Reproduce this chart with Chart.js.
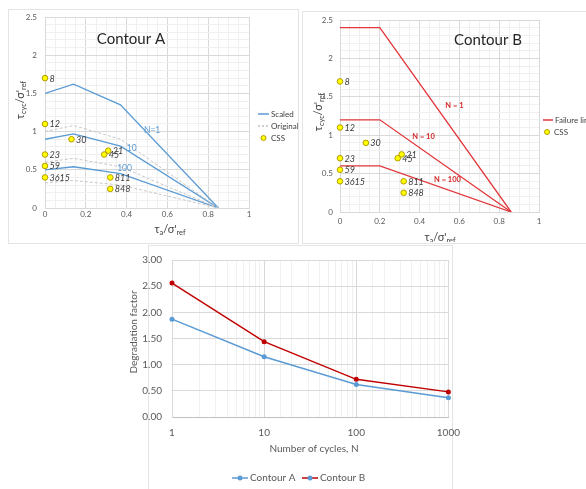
<!DOCTYPE html>
<html>
<head>
<meta charset="utf-8">
<script src="https://cdn.jsdelivr.net/npm/chart.js@4.4.1/dist/chart.umd.min.js"></script>
<style>
  body { margin: 0; background: #fff; width: 586px; height: 489px; overflow: hidden; position: relative; }
  .box { position: absolute; border: 1px solid #e4e4e4; }
  canvas { position: absolute; }
</style>
</head>
<body>
<div class="box" style="left:8px;top:9px;width:289px;height:233px"></div>
<div class="box" style="left:302px;top:11px;width:300px;height:231px"></div>
<div class="box" style="left:148px;top:245px;width:303px;height:260px"></div>
<canvas id="chartA" width="298" height="242" style="left:0;top:0"></canvas>
<canvas id="chartB" width="288" height="242" style="left:298px;top:0"></canvas>
<canvas id="chartN" width="350" height="245" style="left:120px;top:244px"></canvas>
<script>
// CSS test points (same in both contour plots)
const cssX = [0, 0, 0.13, 0, 0.31, 0.29, 0, 0, 0.32, 0.32];
const cssY = [1.7, 1.1, 0.9, 0.7, 0.75, 0.7, 0.55, 0.4, 0.4, 0.25];
const cssText = ['8', '12', '30', '23', '21', '45', '59', '3615', '811', '848'];

// Contour A
const contourX = [0, 0.14, 0.37, 0.85];
const scaledN1 = [1.5, 1.62, 1.35, 0];
const scaledN10 = [0.9, 0.97, 0.81, 0];
const scaledN100 = [0.5, 0.54, 0.45, 0];
const originalN1 = [1.0, 1.08, 0.9, 0];
const originalN10 = [0.6, 0.65, 0.54, 0];
const originalN100 = [0.33, 0.36, 0.3, 0];

// Contour B
const failX = [0, 0.2, 0.86];
const failN1 = [2.4, 2.4, 0];
const failN10 = [1.2, 1.2, 0];
const failN100 = [0.6, 0.6, 0];

// Degradation factor vs number of cycles
const cycles = [1, 10, 100, 1000];
const degA = [1.87, 1.15, 0.62, 0.37];
const degB = [2.56, 1.44, 0.72, 0.48];

const F = 'Lato, "Open Sans", sans-serif';
const BLUE = '#5b9bd5';
const RED = '#e2363a';
const GRID = '#d9d9d9';
const MINOR = '#f0f0f0';
const TICK = '#595959';

const pts = (xs, ys) => xs.map((x, i) => ({ x: x, y: ys[i] }));

// text with subscripts: parts = [[text, isSub], ...]
function rich(ctx, parts, x, y, size, rot) {
  ctx.save();
  ctx.translate(x, y);
  if (rot) ctx.rotate(rot);
  ctx.fillStyle = '#404040';
  ctx.textAlign = 'left';
  ctx.textBaseline = 'middle';
  let w = 0;
  parts.forEach(p => {
    ctx.font = (p[1] ? size * 0.68 : size) + 'px ' + F;
    w += ctx.measureText(p[0]).width;
  });
  let cx = -w / 2;
  parts.forEach(p => {
    ctx.font = (p[1] ? size * 0.68 : size) + 'px ' + F;
    ctx.fillText(p[0], cx, p[1] ? size * 0.32 : 0);
    cx += ctx.measureText(p[0]).width;
  });
  ctx.restore();
}

const yTitle = [['τ'], ['cyc', 1], ['/σ\''], ['ref', 1]];
const xTitle = [['τ'], ['a', 1], ['/σ\''], ['ref', 1]];

function legendItem(ctx, it) {
  ctx.save();
  if (it.kind === 'line' || it.kind === 'linedot') {
    ctx.strokeStyle = it.color;
    ctx.lineWidth = 1.5;
    ctx.setLineDash(it.dash || []);
    ctx.beginPath();
    ctx.moveTo(it.x, it.y);
    ctx.lineTo(it.x + it.len, it.y);
    ctx.stroke();
    ctx.setLineDash([]);
  }
  if (it.kind === 'dot' || it.kind === 'linedot') {
    ctx.beginPath();
    ctx.arc(it.x + it.len / 2, it.y, it.r || 2.5, 0, Math.PI * 2);
    ctx.fillStyle = it.fill || it.color;
    ctx.fill();
    if (it.stroke) { ctx.strokeStyle = it.stroke; ctx.lineWidth = 1; ctx.stroke(); }
  }
  ctx.fillStyle = it.textColor || '#404040';
  ctx.font = it.font;
  ctx.textAlign = 'left';
  ctx.textBaseline = 'middle';
  ctx.fillText(it.text, it.x + it.len + 2, it.y);
  ctx.restore();
}

const decor = {
  id: 'decor',
  afterDraw(chart, args, o) {
    const ctx = chart.ctx, xs = chart.scales.x, ys = chart.scales.y;
    ctx.save();
    ctx.textBaseline = 'middle';
    if (o.title) {
      ctx.font = o.title.size + 'px ' + F;
      ctx.fillStyle = '#262626';
      ctx.textAlign = 'center';
      ctx.fillText(o.title.text, o.title.x, o.title.y);
    }
    (o.axisTitles || []).forEach(t => rich(ctx, t.parts, t.x, t.y, t.size, t.rot));
    (o.plainTitles || []).forEach(t => {
      ctx.save();
      ctx.translate(t.x, t.y);
      if (t.rot) ctx.rotate(t.rot);
      ctx.font = t.size + 'px ' + F;
      ctx.fillStyle = '#595959';
      ctx.textAlign = 'center';
      ctx.fillText(t.text, 0, 0);
      ctx.restore();
    });
    chart.data.datasets.forEach((ds, i) => {
      if (!ds.pointText) return;
      const meta = chart.getDatasetMeta(i);
      ctx.font = 'italic 9px ' + F;
      ctx.fillStyle = '#3a3a3a';
      ctx.textAlign = 'left';
      meta.data.forEach((p, j) => ctx.fillText(ds.pointText[j], p.x + 4.5, p.y + 0.5));
    });
    (o.notes || []).forEach(n => {
      ctx.font = n.font;
      ctx.fillStyle = n.color;
      ctx.textAlign = 'center';
      ctx.fillText(n.text, xs.getPixelForValue(n.x), ys.getPixelForValue(n.y));
    });
    (o.legend || []).forEach(it => legendItem(ctx, it));
    ctx.restore();
  }
};

function contourScales(xPad, yPad, yWidth, xHeight) {
  const majX = v => Math.abs(v * 5 - Math.round(v * 5)) < 1e-6;
  const majY = v => Math.abs(v * 2 - Math.round(v * 2)) < 1e-6;
  return {
    x: {
      type: 'linear', min: 0, max: 1,
      afterFit: s => { s.height = xHeight; },
      border: { color: GRID },
      grid: { drawTicks: false, color: c => majX(c.tick.value) ? GRID : MINOR },
      ticks: {
        stepSize: 0.05, autoSkip: false, maxRotation: 0, padding: xPad,
        color: TICK, font: { family: F, size: 8 },
        callback: v => majX(v) ? String(Math.round(v * 10) / 10) : ''
      }
    },
    y: {
      type: 'linear', min: 0, max: 2.5,
      afterFit: s => { s.width = yWidth; },
      border: { color: GRID },
      grid: { drawTicks: false, color: c => majY(c.tick.value) ? GRID : MINOR },
      ticks: {
        stepSize: 0.1, autoSkip: false, padding: yPad,
        color: TICK, font: { family: F, size: 8 },
        callback: v => majY(v) ? String(Math.round(v * 10) / 10) : ''
      }
    }
  };
}

const cssDataset = {
  label: 'CSS',
  data: pts(cssX, cssY),
  pointText: cssText,
  showLine: false,
  clip: false,
  pointRadius: 2.8,
  pointBackgroundColor: '#ffff00',
  pointBorderColor: '#b59a00',
  pointBorderWidth: 1
};

const lineDs = (label, ys, xs, color, dash, width) => ({
  label: label, data: pts(xs, ys), showLine: true, pointRadius: 0,
  borderColor: color, borderWidth: width, borderDash: dash, fill: false
});

const baseOpts = {
  responsive: false,
  animation: false,
  events: [],
  devicePixelRatio: 1
};

// Contour A
new Chart(document.getElementById('chartA').getContext('2d'), {
  type: 'scatter',
  data: {
    datasets: [
      lineDs('Original', originalN1, contourX, '#c8c8c8', [3, 2], 1),
      lineDs('Original', originalN10, contourX, '#c8c8c8', [3, 2], 1),
      lineDs('Original', originalN100, contourX, '#c8c8c8', [3, 2], 1),
      lineDs('Scaled', scaledN1, contourX, BLUE, [], 1.3),
      lineDs('Scaled', scaledN10, contourX, BLUE, [], 1.3),
      lineDs('Scaled', scaledN100, contourX, BLUE, [], 1.3),
      Object.assign({}, cssDataset)
    ]
  },
  options: Object.assign({}, baseOpts, {
    layout: { padding: { left: 0, top: 17, right: 49, bottom: 0 } },
    scales: contourScales(2, 8, 45, 34),
    plugins: {
      legend: { display: false },
      tooltip: { enabled: false },
      decor: {
        title: { text: 'Contour A', x: 131, y: 39, size: 15 },
        axisTitles: [
          { parts: yTitle, x: 20, y: 100, size: 11, rot: -Math.PI / 2 },
          { parts: xTitle, x: 170, y: 229, size: 11 }
        ],
        notes: [
          { text: 'N=1', x: 0.525, y: 1.02, font: '8.5px ' + F, color: BLUE },
          { text: '10', x: 0.425, y: 0.78, font: '8.5px ' + F, color: BLUE },
          { text: '100', x: 0.39, y: 0.52, font: '8.5px ' + F, color: BLUE }
        ],
        legend: [
          { kind: 'line', color: BLUE, x: 258, y: 114, len: 11, text: 'Scaled', font: '8px ' + F },
          { kind: 'line', color: '#c0c0c0', dash: [2, 2], x: 258, y: 126, len: 11, text: 'Original', font: '8px ' + F },
          { kind: 'dot', fill: '#ffff00', stroke: '#b59a00', r: 2.5, x: 258, y: 138, len: 11, text: 'CSS', font: '8px ' + F }
        ]
      }
    }
  }),
  plugins: [decor]
});

// Contour B
new Chart(document.getElementById('chartB').getContext('2d'), {
  type: 'scatter',
  data: {
    datasets: [
      lineDs('Failure line', failN1, failX, RED, [], 1.3),
      lineDs('Failure line', failN10, failX, RED, [], 1.3),
      lineDs('Failure line', failN100, failX, RED, [], 1.3),
      Object.assign({}, cssDataset)
    ]
  },
  options: Object.assign({}, baseOpts, {
    layout: { padding: { left: 0, top: 20, right: 47, bottom: 0 } },
    scales: contourScales(5, 7, 42, 30),
    plugins: {
      legend: { display: false },
      tooltip: { enabled: false },
      decor: {
        title: { text: 'Contour B', x: 190, y: 40, size: 15 },
        axisTitles: [
          { parts: yTitle, x: 20, y: 112, size: 11, rot: -Math.PI / 2 },
          { parts: xTitle, x: 142, y: 237, size: 11 }
        ],
        notes: [
          { text: 'N = 1', x: 0.575, y: 1.38, font: 'bold 7.5px ' + F, color: '#d42a2a' },
          { text: 'N = 10', x: 0.42, y: 0.98, font: 'bold 7.5px ' + F, color: '#d42a2a' },
          { text: 'N = 100', x: 0.54, y: 0.42, font: 'bold 7.5px ' + F, color: '#d42a2a' }
        ],
        legend: [
          { kind: 'line', color: RED, x: 245, y: 120, len: 10, text: 'Failure line', font: '8px ' + F },
          { kind: 'dot', fill: '#ffff00', stroke: '#b59a00', r: 2.5, x: 244, y: 132, len: 10, text: 'CSS', font: '8px ' + F }
        ]
      }
    }
  }),
  plugins: [decor]
});

// Degradation factor
const isDecade = v => Math.abs(Math.log10(v) - Math.round(Math.log10(v))) < 1e-9;
new Chart(document.getElementById('chartN').getContext('2d'), {
  type: 'scatter',
  data: {
    datasets: [
      { label: 'Contour A', data: pts(cycles, degA), showLine: true, borderColor: BLUE, backgroundColor: BLUE,
        borderWidth: 1.5, pointRadius: 2.5, pointBorderWidth: 0, clip: false },
      { label: 'Contour B', data: pts(cycles, degB), showLine: true, borderColor: '#c00000', backgroundColor: '#c00000',
        borderWidth: 1.5, pointRadius: 2.5, pointBorderWidth: 0, clip: false }
    ]
  },
  options: Object.assign({}, baseOpts, {
    layout: { padding: { left: 0, top: 12, right: 14, bottom: 0 } },
    scales: {
      x: {
        type: 'logarithmic', min: 1, max: 1000,
        afterFit: s => { s.height = 72; },
        border: { color: '#bfbfbf' },
        grid: { drawTicks: false, color: c => isDecade(c.tick.value) ? GRID : MINOR },
        ticks: {
          autoSkip: false, maxRotation: 0, padding: 10,
          color: TICK, font: { family: F, size: 10 },
          callback: v => isDecade(v) ? String(v) : ''
        }
      },
      y: {
        type: 'linear', min: 0, max: 3,
        afterFit: s => { s.width = 52; },
        border: { color: GRID },
        grid: { drawTicks: false, color: GRID },
        ticks: {
          stepSize: 0.5, padding: 10,
          color: TICK, font: { family: F, size: 10 },
          callback: v => v.toFixed(2)
        }
      }
    },
    plugins: {
      legend: { display: false },
      tooltip: { enabled: false },
      decor: {
        plainTitles: [
          { text: 'Degradation factor', x: 14, y: 88, size: 10, rot: -Math.PI / 2 },
          { text: 'Number of cycles, N', x: 194, y: 205, size: 10 }
        ],
        legend: [
          { kind: 'linedot', color: BLUE, x: 112, y: 234, len: 16, text: 'Contour A', font: '10px ' + F, textColor: '#595959' },
          { kind: 'linedot', color: '#c00000', x: 182, y: 234, len: 16, text: 'Contour B', font: '10px ' + F, textColor: '#595959' }
        ]
      }
    }
  }),
  plugins: [decor]
});
</script>
</body>
</html>
